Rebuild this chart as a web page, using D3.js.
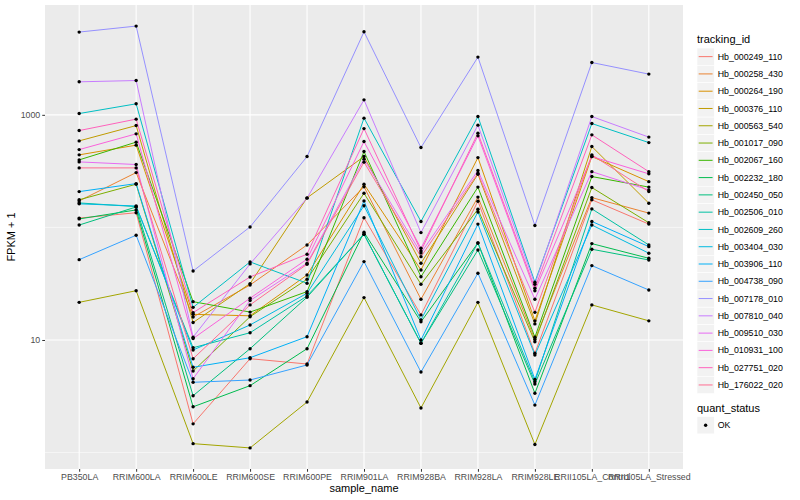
<!DOCTYPE html>
<html>
<head>
<meta charset="utf-8">
<script src="https://cdn.jsdelivr.net/npm/d3@7"></script>
<style>
  body { margin: 0; background: #fff; }
  text { font-family: "Liberation Sans", Arial, Helvetica, sans-serif; }
</style>
</head>
<body>
<div id="chart"></div>
<script>
var samples = ["PB350LA", "RRIM600LA", "RRIM600LE", "RRIM600SE", "RRIM600PE", "RRIM901LA",
  "RRIM928BA", "RRIM928LA", "RRIM928LE", "RRII105LA_Control", "RRII105LA_Stressed"];

var trackingIds = ["Hb_000249_110", "Hb_000258_430", "Hb_000264_190", "Hb_000376_110", "Hb_000563_540",
  "Hb_001017_090", "Hb_002067_160", "Hb_002232_180", "Hb_002450_050", "Hb_002506_010",
  "Hb_002609_260", "Hb_003404_030", "Hb_003906_110", "Hb_004738_090", "Hb_007178_010",
  "Hb_007810_040", "Hb_009510_030", "Hb_010931_100", "Hb_027751_020", "Hb_176022_020"];

// ggplot hue palette, 20 levels
var colors = ["#F8766D", "#EA8331", "#D89000", "#C09B00", "#A3A500", "#7CAE00", "#39B600", "#00BB4E",
  "#00BF7D", "#00C1A3", "#00BFC4", "#00BAE0", "#00B0F6", "#35A2FF", "#9590FF", "#C77CFF",
  "#E76BF3", "#FA62DB", "#FF62BC", "#FF6C91"];

// FPKM + 1, one row per tracking_id, one value per sample
var fpkm = [
  [121, 135, 1.80, 6.82, 6.12, 122, 16.7, 171, 7.62, 176, 107],
  [172, 307, 16.0, 30.8, 69.9, 230, 23.0, 186, 10.1, 184, 134],
  [441, 538, 16.9, 16.4, 37.8, 242, 41.9, 417, 14.8, 426, 255],
  [587, 803, 14.3, 31.7, 183, 426, 48.1, 297, 13.9, 523, 164],
  [21.6, 27.4, 1.20, 1.10, 2.81, 23.8, 2.49, 21.6, 1.18, 20.5, 14.8],
  [176, 242, 5.30, 16.1, 34.6, 201, 31.3, 145, 9.66, 226, 110],
  [398, 572, 21.9, 17.7, 26.9, 472, 36.5, 228, 10.6, 283, 228],
  [119, 143, 2.55, 3.93, 8.37, 90.6, 14.5, 72.8, 3.36, 71.8, 53.2],
  [105, 152, 3.20, 8.37, 24.0, 87.0, 9.35, 63.1, 4.06, 64.0, 51.4],
  [165, 153, 8.54, 11.6, 24.6, 87.0, 9.35, 72.8, 4.26, 146, 69.9],
  [1027, 1253, 19.5, 49.4, 31.9, 935, 113, 966, 32.6, 837, 567],
  [162, 155, 8.15, 13.6, 26.0, 156, 15.1, 137, 7.36, 105, 59.0],
  [208, 245, 5.72, 6.96, 10.7, 172, 10.0, 107, 4.47, 113, 67.5],
  [51.7, 85.2, 4.21, 4.41, 6.00, 49.7, 5.19, 39.2, 2.64, 45.8, 27.8],
  [5435, 6143, 41.0, 101, 426, 5467, 512, 3257, 104, 2916, 2300],
  [1965, 2018, 10.6, 47.4, 182, 1359, 89.9, 810, 31.3, 966, 634],
  [382, 362, 4.53, 22.4, 48.1, 404, 59.3, 320, 23.0, 313, 215],
  [491, 678, 10.3, 23.5, 52.2, 579, 65.3, 651, 27.4, 426, 299],
  [725, 916, 17.5, 36.3, 57.8, 755, 61.8, 688, 28.8, 664, 313],
  [338, 338, 6.82, 20.5, 47.1, 380, 55.0, 303, 17.6, 441, 208]
];

var yBreaks = [10, 1000];
var yMinor = [1, 100, 10000];

var width = 800, height = 500;
var panel = { left: 45, right: 683, top: 5, bottom: 469 };

var svg = d3.select("#chart").append("svg")
  .attr("width", width)
  .attr("height", height);

var x = d3.scalePoint()
  .domain(samples)
  .range([panel.left, panel.right])
  .padding(0.6);

// log scale with ggplot-like 5% expansion
var allVals = d3.merge(fpkm);
var lo = Math.log10(d3.min(allVals)), hi = Math.log10(d3.max(allVals));
var pad = (hi - lo) * 0.05;
var y = d3.scaleLog()
  .domain([Math.pow(10, lo - pad), Math.pow(10, hi + pad)])
  .range([panel.bottom, panel.top]);

//Panel background
svg.append("rect")
  .attr("x", panel.left).attr("y", panel.top)
  .attr("width", panel.right - panel.left)
  .attr("height", panel.bottom - panel.top)
  .attr("fill", "#EBEBEB");

var grid = svg.append("g");
grid.selectAll(".minor")
  .data(yMinor.filter(d => y(d) >= panel.top && y(d) <= panel.bottom))
  .enter().append("line")
  .attr("x1", panel.left).attr("x2", panel.right)
  .attr("y1", d => y(d)).attr("y2", d => y(d))
  .attr("stroke", "#fff").attr("stroke-width", 0.55);
grid.selectAll(".major")
  .data(yBreaks)
  .enter().append("line")
  .attr("x1", panel.left).attr("x2", panel.right)
  .attr("y1", d => y(d)).attr("y2", d => y(d))
  .attr("stroke", "#fff").attr("stroke-width", 1.1);
grid.selectAll(".vx")
  .data(samples)
  .enter().append("line")
  .attr("x1", d => x(d)).attr("x2", d => x(d))
  .attr("y1", panel.top).attr("y2", panel.bottom)
  .attr("stroke", "#fff").attr("stroke-width", 1.1);

//Lines
var line = d3.line()
  .x((d, i) => x(samples[i]))
  .y(d => y(d));

svg.append("g").selectAll("path")
  .data(fpkm)
  .enter().append("path")
  .attr("d", d => line(d))
  .attr("fill", "none")
  .attr("stroke", (d, i) => colors[i])
  .attr("stroke-width", 1);

//Points
var pts = [];
fpkm.forEach(function(row) {
  row.forEach(function(v, j) { pts.push({ s: samples[j], v: v }); });
});
svg.append("g").selectAll("circle")
  .data(pts)
  .enter().append("circle")
  .attr("cx", d => x(d.s))
  .attr("cy", d => y(d.v))
  .attr("r", 1.7)
  .attr("fill", "#000");

//Axes
var xAxis = svg.append("g")
  .attr("transform", "translate(0," + panel.bottom + ")")
  .call(d3.axisBottom(x).tickSize(2.75).tickPadding(2));
var yAxis = svg.append("g")
  .attr("transform", "translate(" + panel.left + ",0)")
  .call(d3.axisLeft(y).tickValues(yBreaks).tickFormat(d3.format("d")).tickSize(2.75).tickPadding(2));
[xAxis, yAxis].forEach(function(a) {
  a.select(".domain").remove();
  a.selectAll(".tick line").attr("stroke", "#333333").attr("stroke-width", 1);
  a.selectAll(".tick text").attr("fill", "#4D4D4D").style("font-size", "8.8px")
    .style("font-family", "'Liberation Sans', Arial, sans-serif");
});

svg.append("text")
  .attr("x", (panel.left + panel.right) / 2)
  .attr("y", 492)
  .attr("text-anchor", "middle")
  .style("font-size", "11px")
  .text("sample_name");

svg.append("text")
  .attr("transform", "translate(15," + (panel.top + panel.bottom) / 2 + ") rotate(-90)")
  .attr("text-anchor", "middle")
  .style("font-size", "11px")
  .text("FPKM + 1");

//Legend: tracking_id
var keySize = 17.28;
var legX = 697, legY = 48;
var leg = svg.append("g");
leg.append("text")
  .attr("x", legX).attr("y", legY - 5)
  .style("font-size", "11px")
  .text("tracking_id");

var items = leg.selectAll(".item")
  .data(trackingIds)
  .enter().append("g")
  .attr("transform", (d, i) => "translate(" + legX + "," + (legY + i * keySize) + ")");
items.append("rect")
  .attr("width", keySize).attr("height", keySize)
  .attr("fill", "#F2F2F2").attr("stroke", "#fff").attr("stroke-width", 0.6);
items.append("line")
  .attr("x1", 1.7).attr("x2", keySize - 1.7)
  .attr("y1", keySize / 2).attr("y2", keySize / 2)
  .attr("stroke", (d, i) => colors[i]).attr("stroke-width", 1);
items.append("text")
  .attr("x", keySize + 3.5).attr("y", keySize / 2)
  .attr("dy", "0.35em")
  .style("font-size", "8.8px")
  .text(d => d);

//Legend: quant_status
var qY = legY + trackingIds.length * keySize + 23;
leg.append("text")
  .attr("x", legX).attr("y", qY - 5)
  .style("font-size", "11px")
  .text("quant_status");
var q = leg.append("g").attr("transform", "translate(" + legX + "," + qY + ")");
q.append("rect")
  .attr("width", keySize).attr("height", keySize)
  .attr("fill", "#F2F2F2").attr("stroke", "#fff").attr("stroke-width", 0.6);
q.append("circle")
  .attr("cx", keySize / 2).attr("cy", keySize / 2).attr("r", 1.7).attr("fill", "#000");
q.append("text")
  .attr("x", keySize + 3.5).attr("y", keySize / 2)
  .attr("dy", "0.35em")
  .style("font-size", "8.8px")
  .text("OK");
</script>
</body>
</html>
